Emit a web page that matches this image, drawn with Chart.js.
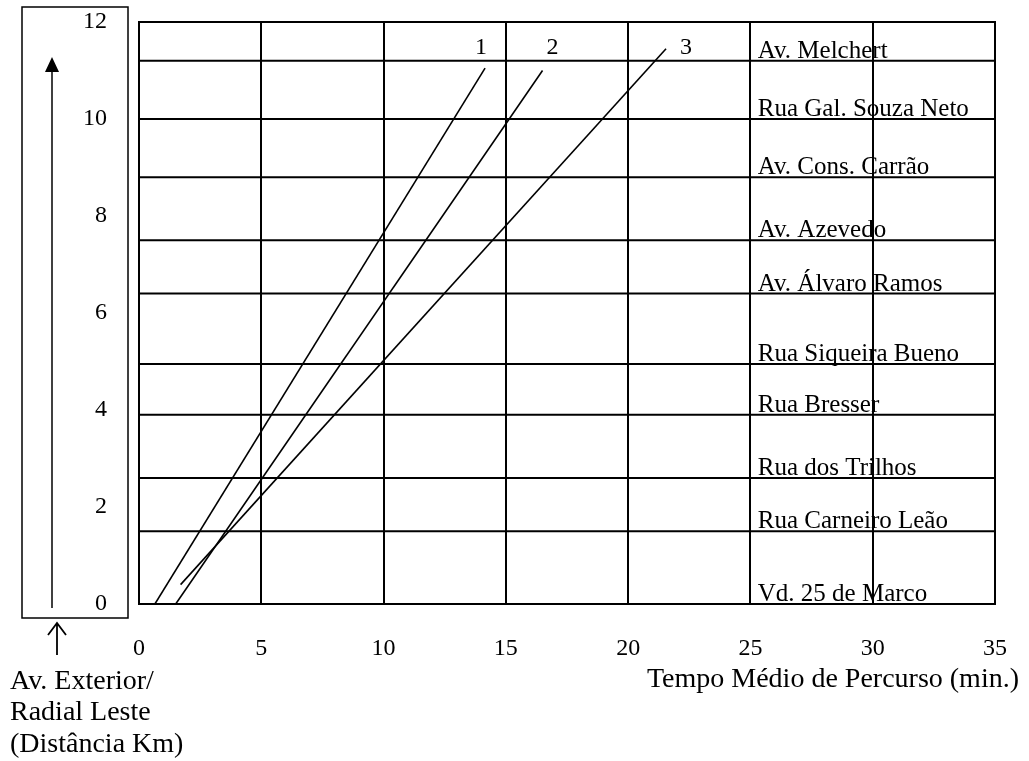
<!DOCTYPE html>
<html>
<head>
<meta charset="utf-8">
<style>
  html, body { margin: 0; padding: 0; background: #fff; }
  #wrap { width: 1029px; height: 761px; position: relative; }
</style>
</head>
<body>
<div id="wrap"><canvas id="chart"></canvas></div>

<script src="https://cdn.jsdelivr.net/npm/chart.js"></script>
<script>
// ruas (linhas horizontais) e distância em km
const streets = ['Av. Melchert', 'Rua Gal. Souza Neto', 'Av. Cons. Carrão', 'Av. Azevedo', 'Av. Álvaro Ramos',
  'Rua Siqueira Bueno', 'Rua Bresser', 'Rua dos Trilhos', 'Rua Carneiro Leão', 'Vd. 25 de Marco'];
const streetKm = [11.2, 10.0, 8.8, 7.5, 6.4, 4.95, 3.9, 2.6, 1.5, 0];

// retas 1, 2 e 3: tempo (min) x distância (km)
const lineLabels = ['1', '2', '3'];
const line1Min = [0.65, 14.15];
const line1Km = [0, 11.05];
const line2Min = [1.5, 16.5];
const line2Km = [0, 11.0];
const line3Min = [1.7, 21.55];
const line3Km = [0.4, 11.45];

const yTicks = [0, 2, 4, 6, 8, 10, 12];
const xMax = 35;
const streetLabelMin = 25.3;

const serif = '"Liberation Serif", "Times New Roman", serif';
Chart.defaults.font.family = serif;
Chart.defaults.font.size = 24;
Chart.defaults.color = '#000';

const pts = (xs, ys) => xs.map((v, i) => ({ x: v, y: ys[i] }));

const streetSets = streetKm.map((km, i) => ({
  label: streets[i],
  data: [{ x: 0, y: km }, { x: xMax, y: km }],
  borderColor: '#000',
  borderWidth: 2,
  pointRadius: 0,
  showLine: true
}));

const routeSets = [[line1Min, line1Km], [line2Min, line2Km], [line3Min, line3Km]].map((d, i) => ({
  label: lineLabels[i],
  data: pts(d[0], d[1]),
  borderColor: '#000',
  borderWidth: 1.6,
  pointRadius: 0,
  showLine: true
}));

const extras = {
  id: 'extras',
  afterDraw(chart) {
    const { ctx, chartArea: a, scales: { x, y } } = chart;
    ctx.save();
    ctx.strokeStyle = '#000';
    ctx.fillStyle = '#000';

    // moldura
    ctx.lineWidth = 2;
    ctx.strokeRect(a.left, a.top, a.right - a.left, a.bottom - a.top);

    // nomes das ruas
    ctx.font = '25px ' + serif;
    ctx.textAlign = 'left';
    ctx.textBaseline = 'alphabetic';
    streets.forEach((s, i) => {
      ctx.fillText(s, x.getPixelForValue(streetLabelMin), y.getPixelForValue(streetKm[i]) - 3);
    });

    // números das retas
    ctx.font = '24px ' + serif;
    ctx.textAlign = 'center';
    ctx.textBaseline = 'middle';
    const dx = [-4, 10, 20];
    routeSets.forEach((ds, i) => {
      const last = ds.data[ds.data.length - 1];
      ctx.fillText(lineLabels[i], x.getPixelForValue(last.x) + dx[i], a.top + 26);
    });

    // caixa do eixo de distância
    ctx.lineWidth = 1.5;
    ctx.strokeRect(22, a.top - 15, 106, a.bottom - a.top + 29);

    // seta dentro da caixa
    ctx.beginPath();
    ctx.moveTo(52, a.bottom + 4);
    ctx.lineTo(52, a.top + 48);
    ctx.stroke();
    ctx.beginPath();
    ctx.moveTo(52, a.top + 35);
    ctx.lineTo(45, a.top + 50);
    ctx.lineTo(59, a.top + 50);
    ctx.closePath();
    ctx.fill();

    // seta abaixo da caixa
    ctx.lineWidth = 1.8;
    ctx.beginPath();
    ctx.moveTo(57, a.bottom + 51);
    ctx.lineTo(57, a.bottom + 19);
    ctx.moveTo(48, a.bottom + 31);
    ctx.lineTo(57, a.bottom + 19);
    ctx.lineTo(66, a.bottom + 31);
    ctx.stroke();

    // legenda do eixo vertical
    ctx.font = '28px ' + serif;
    ctx.textAlign = 'left';
    ctx.textBaseline = 'middle';
    ctx.fillText('Av. Exterior/', 10, 682);
    ctx.fillText('Radial Leste', 10, 713);
    ctx.fillText('(Distância Km)', 10, 745);

    // título do eixo horizontal
    ctx.textAlign = 'right';
    ctx.fillText('Tempo Médio de Percurso (min.)', 1019, 680);
    ctx.restore();
  }
};

new Chart(document.getElementById('chart'), {
  type: 'scatter',
  data: { datasets: [...streetSets, ...routeSets] },
  options: {
    responsive: true,
    maintainAspectRatio: false,
    animation: false,
    layout: { padding: { top: 22, right: 34, left: 0, bottom: 0 } },
    plugins: { legend: { display: false }, tooltip: { enabled: false } },
    scales: {
      x: {
        type: 'linear',
        min: 0,
        max: xMax,
        ticks: { stepSize: 5, padding: 30 },
        grid: { color: '#000', lineWidth: 2, drawTicks: false },
        border: { display: false },
        afterFit: s => { s.height = 157; s.paddingLeft = 0; s.paddingRight = 0; }
      },
      y: {
        type: 'linear',
        min: 0,
        max: 12,
        afterBuildTicks: s => { s.ticks = yTicks.map(v => ({ value: v })); },
        ticks: { padding: 32 },
        grid: { display: false, drawTicks: false },
        border: { display: false },
        afterFit: s => { s.width = 139; s.paddingTop = 0; s.paddingBottom = 0; }
      }
    }
  },
  plugins: [extras]
});
</script>
</body>
</html>
